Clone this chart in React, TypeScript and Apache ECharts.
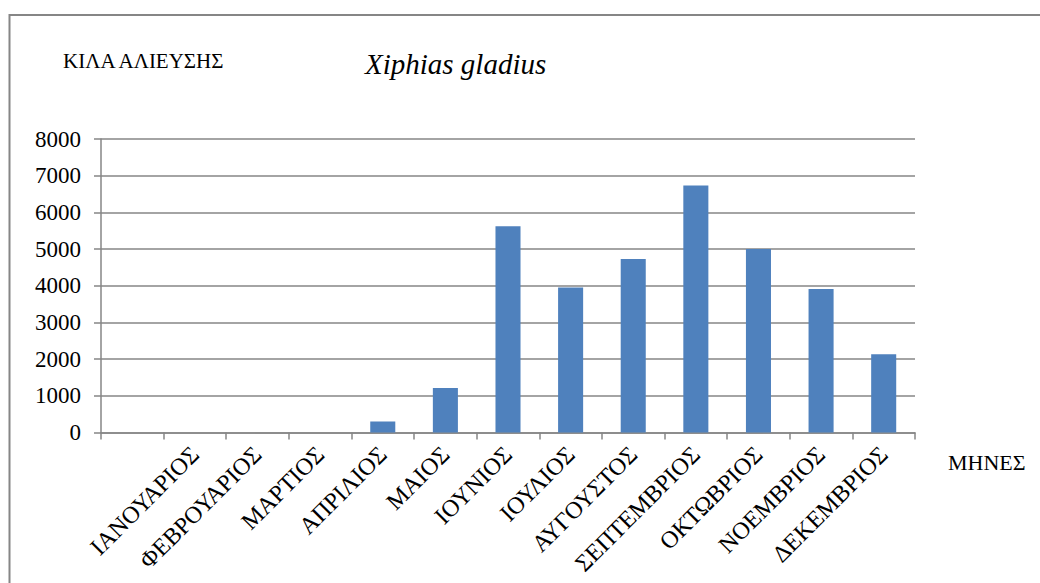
import React, { useEffect, useRef } from "react";
import * as echarts from "echarts";

const categories: string[] = [
  "",
  "ΙΑΝΟΥΑΡΙΟΣ",
  "ΦΕΒΡΟΥΑΡΙΟΣ",
  "ΜΑΡΤΙΟΣ",
  "ΑΠΡΙΛΙΟΣ",
  "ΜΑΙΟΣ",
  "ΙΟΥΝΙΟΣ",
  "ΙΟΥΛΙΟΣ",
  "ΑΥΓΟΥΣΤΟΣ",
  "ΣΕΠΤΕΜΒΡΙΟΣ",
  "ΟΚΤΩΒΡΙΟΣ",
  "ΝΟΕΜΒΡΙΟΣ",
  "ΔΕΚΕΜΒΡΙΟΣ",
];
const catchKg: (number | null)[] = [null, 0, 0, 0, 300, 1210, 5620, 3950, 4730, 6730, 5000, 3910, 2130];

const titleText = "Xiphias gladius";
const yAxisTitle = "ΚΙΛΑ ΑΛΙΕΥΣΗΣ";
const xAxisTitle = "ΜΗΝΕΣ";
const yMin = 0;
const yMax = 8000;
const yInterval = 1000;

const FONT = "Liberation Serif";
const GRAY = "#868686";

export default function App() {
  const ref = useRef<HTMLDivElement>(null);
  useEffect(() => {
    if (!ref.current) return;
    const chart = echarts.init(ref.current, undefined, { renderer: "svg" });
    chart.setOption({
      animation: false,
      backgroundColor: "#ffffff",
      textStyle: { fontFamily: FONT },
      grid: { left: 101, right: 125, top: 139, bottom: 150.5, containLabel: false },
      xAxis: {
        type: "category",
        data: categories,
        axisLine: { show: true, lineStyle: { color: GRAY, width: 1.5 } },
        axisTick: { show: true, length: 7, lineStyle: { color: GRAY, width: 1.5 } },
        axisLabel: {
          rotate: 45,
          margin: 18,
          interval: 0,
          color: "#000",
          fontFamily: FONT,
          fontSize: 24,
        },
      },
      yAxis: {
        type: "value",
        min: yMin,
        max: yMax,
        interval: yInterval,
        axisLine: { show: true, lineStyle: { color: GRAY, width: 1.5 } },
        axisTick: { show: true, length: 7, lineStyle: { color: GRAY, width: 1.5 } },
        axisLabel: {
          margin: 20,
          color: "#000",
          fontFamily: FONT,
          fontSize: 23,
          formatter: (v: number) => String(v),
        },
        splitLine: { show: true, lineStyle: { color: GRAY, width: 1.5 } },
      },
      series: [
        {
          type: "bar",
          data: catchKg,
          barWidth: "40%",
          itemStyle: { color: "#4F81BD", borderWidth: 0 },
        },
      ],
      graphic: [
        {
          type: "rect",
          shape: { x: 9.5, y: 15, width: 1200, height: 800 },
          style: { fill: "none", stroke: GRAY, lineWidth: 2 },
          silent: true,
        },
        {
          type: "text",
          x: 63,
          y: 61,
          style: {
            text: yAxisTitle,
            fontFamily: FONT,
            fontSize: 21,
            fill: "#000",
            verticalAlign: "middle",
            align: "left",
          },
        },
        {
          type: "text",
          x: 365,
          y: 64,
          style: {
            text: titleText,
            fontFamily: FONT,
            fontSize: 29,
            fontStyle: "italic",
            fill: "#000",
            verticalAlign: "middle",
            align: "left",
          },
        },
        {
          type: "text",
          x: 948,
          y: 462,
          style: {
            text: xAxisTitle,
            fontFamily: FONT,
            fontSize: 22,
            fill: "#000",
            verticalAlign: "middle",
            align: "left",
          },
        },
      ],
    });
    return () => chart.dispose();
  }, []);
  return (
    <div
      ref={ref}
      style={{ position: "fixed", left: 0, top: 0, width: 1040, height: 583, background: "#fff" }}
    />
  );
}
